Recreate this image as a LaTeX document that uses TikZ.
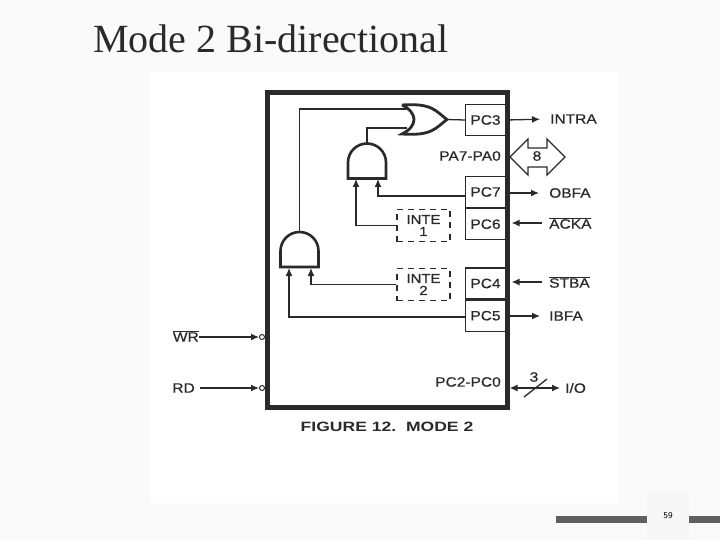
\documentclass[tikz,border=0pt]{standalone}
\usepackage{fontspec}
\usetikzlibrary{arrows.meta,positioning}
\setmainfont{Liberation Serif}
\newfontfamily\labelfont[FakeStretch=1.15,FakeBold=0.6]{Liberation Sans}
\newfontfamily\capfont[FakeStretch=1.3]{Liberation Sans}
\definecolor{ink}{HTML}{2A2A2A}
\definecolor{slide}{HTML}{FAFAFA}
\definecolor{tab}{HTML}{F7F7F7}
\definecolor{bar}{HTML}{5F5F5F}
\begin{document}
\begin{tikzpicture}[
        x=1pt,y=-1pt,
        >={Latex[length=8pt,width=7pt]},
        s/.style={draw=ink,line width=1.2pt,rectangle,inner sep=0pt,minimum height=31pt,minimum width=40pt,text=ink,font=\labelfont\fontsize{13.5}{14}\selectfont},
        l/.style={inner sep=0pt,text=ink,font=\labelfont\fontsize{13.5}{14}\selectfont},
        inte/.style={draw=ink,line width=1.3pt,dashed,dash pattern=on 6pt off 5pt,rectangle,inner sep=0pt,minimum height=32pt,minimum width=53pt,align=center,text=ink,font=\labelfont\fontsize{13}{13}\selectfont},
        g/.style={rectangle,inner sep=0pt,outer sep=0pt,minimum width=38pt,minimum height=35pt},
        gate/.style={draw=ink,line width=2.6pt},
        w/.style={draw=ink,line width=1.3pt},
        pin/.style={draw=ink,line width=1pt,circle,inner sep=0pt,minimum size=5pt}
    ]

    \useasboundingbox (0,0) rectangle (720,540);

    % slide
    \fill[slide] (0,0) rectangle (720,540);
    \fill[white] (151,72) rectangle (618,503);
    \fill[tab] (647,492) rectangle (689,540);
    \fill[bar] (556,516) rectangle (647,523);
    \fill[bar] (689,516) rectangle (720,523);
    \node[anchor=base west,inner sep=0pt,font=\fontsize{40}{40}\selectfont,text=ink] (title) at (93,53) {Mode 2 Bi-directional};
    \node[inner sep=0pt,font=\sffamily\fontsize{9}{10}\selectfont,text=black] (page) at (668,516) {59};

    % port boxes
    \node[s] (PC3) at (485.5,120) {PC3};
    \node[s] (PC7) at (485.5,192) {PC7};
    \node[s,below=0pt of PC7] (PC6) {PC6};
    \node[s] (PC4) at (485.5,283.5) {PC4};
    \node[s,below=0pt of PC4] (PC5) {PC5};

    % chip
    \node[draw=ink,line width=4.8pt,rectangle,inner sep=0pt,minimum width=240pt,minimum height=315pt] (chip) at (387.2,250) {};
    \draw[ink,line width=4pt] (chip.north west) ++(2.75,0) -- ++(0,315);

    % gates
    \node[g] (and1) at (367,161) {};
    \node[g] (and2) at (299.5,249.5) {};
    \node[g,minimum width=45pt,minimum height=29pt] (orgate) at (424.5,119.5) {};
    \foreach \a in {and1,and2}
        \draw[gate] (\a.south east) -- ++(0,-16) arc[start angle=0,end angle=180,radius=19pt] -- (\a.south west) -- cycle;
    \draw[gate,line width=2.8pt]
        (orgate.north west) .. controls +(30,-2) and +(-12,-9) .. (orgate.east)
        .. controls +(-12,9) and +(30,2) .. (orgate.south west)
        .. controls +(16,-8) and +(16,8) .. (orgate.north west);

    \node[inte] (INTE1) at (423.5,225.5) {INTE\\[-1pt]1};
    \node[inte] (INTE2) at (423.5,284.5) {INTE\\[-1pt]2};

    \coordinate (orA) at (407,109);
    \coordinate (orB) at (407,128);
    \coordinate (and1A) at (356,179);
    \coordinate (and1B) at (378,179);
    \coordinate (and2A) at (289,268);
    \coordinate (and2B) at (311,268);
    \coordinate (fromPC7) at (466,196);
    \coordinate (fromPC5) at (465,317);

    % inner wires
    \draw[w] (and2.north) |- (orA);
    \draw[w] (and1.north) |- (orB);
    \draw[w] (orgate.east) -- (PC3.west);
    \draw[w,->] (fromPC7) -| (and1B);
    \draw[w,->] (INTE1.west) -| (and1A);
    \draw[w,->] (INTE2.west) -| (and2B);
    \draw[w,->] (fromPC5) -| (and2A);

    % outer labels
    \node[l,anchor=west] (INTRA) at (550,119) {INTRA};
    \node[l,anchor=west] (OBFA) at (549,193) {OBFA};
    \node[l,anchor=west] (ACKA) at (549,223) {$\overline{\mbox{ACKA}}$};
    \node[l,anchor=west] (STBA) at (549,282) {$\overline{\mbox{STBA}}$};
    \node[l,anchor=west] (IBFA) at (549,316) {IBFA};
    \node[l,anchor=west] (IO) at (565,388) {I/O};
    \node[l,anchor=east] (PA) at (501,156) {PA7-PA0};
    \node[l,anchor=east] (PC) at (501,382) {PC2-PC0};
    \node[l,anchor=east] (WR) at (199,336) {$\overline{\mbox{WR}}$};
    \node[l,anchor=east] (RD) at (195,388) {RD};
    \node[pin] (WRpin) at (262,337) {};
    \node[pin] (RDpin) at (262,388) {};
    \node[l] (three) at (534,377) {3};
    \node[l] (eight) at (537,156) {8};
    \node[inner sep=0pt,text=ink,font=\capfont\bfseries\fontsize{13.5}{14}\selectfont] (caption) at (387,427) {FIGURE 12.\ \ MODE 2};

    % outer wires
    \draw[w,->,shorten >=10pt] (PC3.east) -- (INTRA.west);
    \draw[w,->,shorten >=10pt] (chip.east |- OBFA) -- (OBFA.west);
    \draw[w,->,shorten >=2pt,shorten <=7pt] (ACKA.west) -- (chip.east |- ACKA);
    \draw[w,->,shorten >=2pt,shorten <=7pt] (STBA.west) -- (chip.east |- STBA);
    \draw[w,->,shorten >=9pt] (chip.east |- IBFA) -- (IBFA.west);
    \draw[w,->] (WR.east) ++(0,1) -- (WRpin.west);
    \draw[w,->,shorten <=5pt] (RD.east) -- (RDpin.west);
    \draw[w,<->,shorten >=5pt] (chip.east |- IO) -- (IO.west);
    \coordinate (slashA) at (524,397);
    \coordinate (slashB) at (547,379);
    \draw[w] (slashA) -- (slashB);

    % bus
    \draw[w,line width=1.4pt] (510,157) -- (528,139) -- (528,148) -- (547,148) -- (547,139) -- (565,157)
        -- (547,175) -- (547,167) -- (528,167) -- (528,175) -- cycle;

\end{tikzpicture}
\end{document}
